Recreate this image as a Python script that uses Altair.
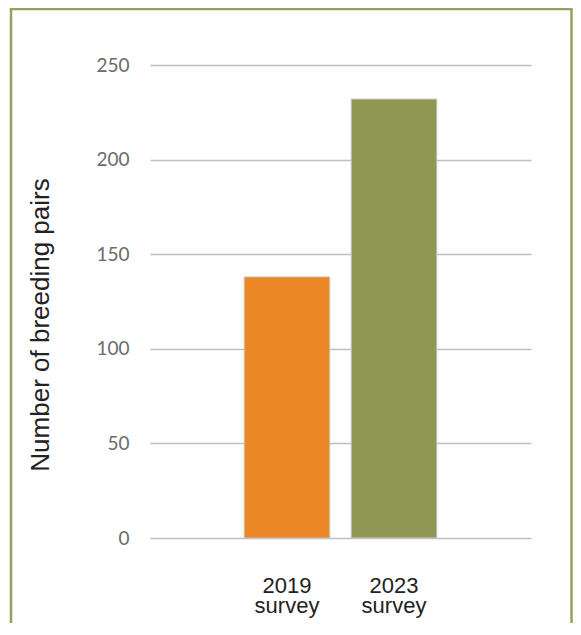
import altair as alt
import pandas as pd

categories = ["2019 survey", "2023 survey"]
values = [138, 232]
colors = ["#EB8725", "#909752"]
y_ticks = [0, 50, 100, 150, 200, 250]

df = pd.DataFrame({"survey": categories, "pairs": values})

frame = alt.Chart(alt.Data(values=[{"f": 1}])).mark_rect(
    fill="white", fillOpacity=0, stroke="#99A05C", strokeWidth=2.5
).encode(
    x=alt.value(-139), x2=alt.value(421.5), y=alt.value(-56), y2=alt.value(700)
)

bars = alt.Chart(df).mark_bar(stroke="#C8C8C8", strokeWidth=1).encode(
    x=alt.X(
        "survey:N",
        sort=categories,
        scale=alt.Scale(paddingInner=0.2, paddingOuter=0.88),
        axis=alt.Axis(
            title=None,
            labelAngle=0,
            labelExpr="split(datum.label, ' ')",
            labelFont="Liberation Sans",
            labelFontSize=22,
            labelColor="#222222",
            labelLineHeight=20,
            labelPadding=37,
            domain=False,
            ticks=False,
            tickSize=0,
            grid=False,
        ),
    ),
    y=alt.Y(
        "pairs:Q",
        scale=alt.Scale(domain=[0, 250], nice=False),
        axis=alt.Axis(
            title="Number of breeding pairs",
            values=y_ticks,
            labelFont="Lato",
            labelFontSize=19,
            labelColor="#6B6B6B",
            labelPadding=21,
            domain=False,
            ticks=False,
            tickSize=0,
            grid=True,
            gridColor="#BFBFBF",
            gridWidth=1.5,
            titleFont="Liberation Sans",
            titleFontSize=26,
            titleFontWeight="normal",
            titleColor="#222222",
            titleX=-102,
            titleY=259.5,
            titleBaseline="alphabetic",
            titleAngle=-90,
        ),
    ),
    color=alt.Color(
        "survey:N",
        scale=alt.Scale(domain=categories, range=colors),
        legend=None,
    ),
)

chart = alt.layer(frame, bars).properties(
    width=381,
    height=473,
    autosize=alt.AutoSizeParams(type="none"),
    padding={"left": 142, "top": 57, "right": 42, "bottom": 85},
    background="white",
).configure_view(stroke=None)

chart.save("out.html", embed_options={"renderer": "svg", "actions": False})
